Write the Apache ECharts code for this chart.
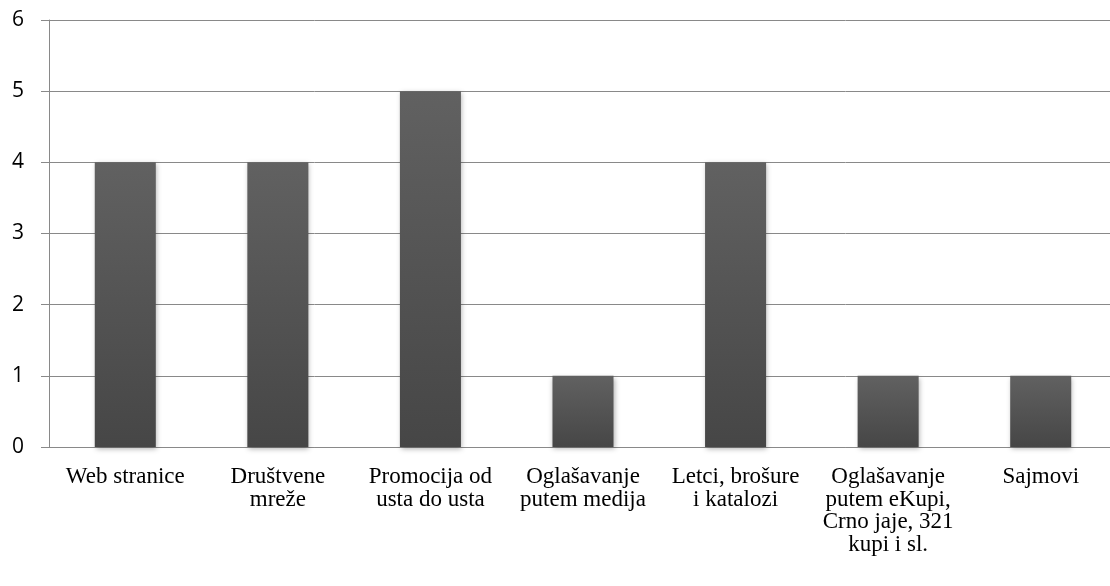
<!DOCTYPE html>
<html lang="hr">

<head>
    <meta charset="UTF-8">
    <title>Kanali promocije</title>
    <script src="https://cdn.jsdelivr.net/npm/echarts/dist/echarts.min.js"></script>
    <style>
        html,
        body {
            margin: 0;
            padding: 0;
            background-color: #fff;
            overflow: hidden;
        }

        #pic {
            width: 1110px;
            height: 586px;
        }
    </style>
</head>

<body>
    <div id="pic"></div>

    <script>
        // podaci
        const categories = [
            'Web stranice',
            'Društvene\nmreže',
            'Promocija od\nusta do usta',
            'Oglašavanje\nputem medija',
            'Letci, brošure\ni katalozi',
            'Oglašavanje\nputem eKupi,\nCrno jaje, 321\nkupi i sl.',
            'Sajmovi'
        ];
        const values = [4, 4, 5, 1, 4, 1, 1];
        const yTicks = [0, 1, 2, 3, 4, 5, 6];

        const gridColor = '#898989';

        var myChart = echarts.init(document.getElementById('pic'));

        var option = {
            animation: false,
            grid: {
                left: 49,
                right: -7, // plot runs a little past the right edge
                top: 20,
                bottom: 139,
                containLabel: false,
                outerBoundsMode: 'none'
            },
            xAxis: {
                type: 'category',
                data: categories,
                axisLine: { lineStyle: { color: gridColor, width: 1 } },
                axisTick: { length: 8, lineStyle: { color: gridColor } },
                axisLabel: {
                    interval: 0,
                    margin: 19,
                    color: '#000',
                    fontFamily: '"Liberation Serif", "Times New Roman", serif',
                    fontSize: 23,
                    lineHeight: 22.5
                }
            },
            yAxis: {
                type: 'value',
                min: yTicks[0],
                max: yTicks[yTicks.length - 1],
                interval: 1,
                axisLine: { show: true, lineStyle: { color: gridColor, width: 1 } },
                axisTick: { show: true, length: 8, lineStyle: { color: gridColor } },
                splitLine: { show: true, lineStyle: { color: gridColor, width: 1 } },
                axisLabel: {
                    margin: 25,
                    color: '#000',
                    fontFamily: '"Open Sans", "DejaVu Sans", sans-serif',
                    fontSize: 21
                }
            },
            series: [{
                type: 'bar',
                data: values,
                barWidth: '40%',
                itemStyle: {
                    color: new echarts.graphic.LinearGradient(0, 0, 0, 1, [
                        { offset: 0, color: '#616161' },
                        { offset: 1, color: '#464646' }
                    ]),
                    shadowColor: 'rgba(0, 0, 0, 0.3)',
                    shadowBlur: 5,
                    shadowOffsetX: 1,
                    shadowOffsetY: 2
                }
            }]
        };

        myChart.setOption(option);
    </script>
</body>

</html>
